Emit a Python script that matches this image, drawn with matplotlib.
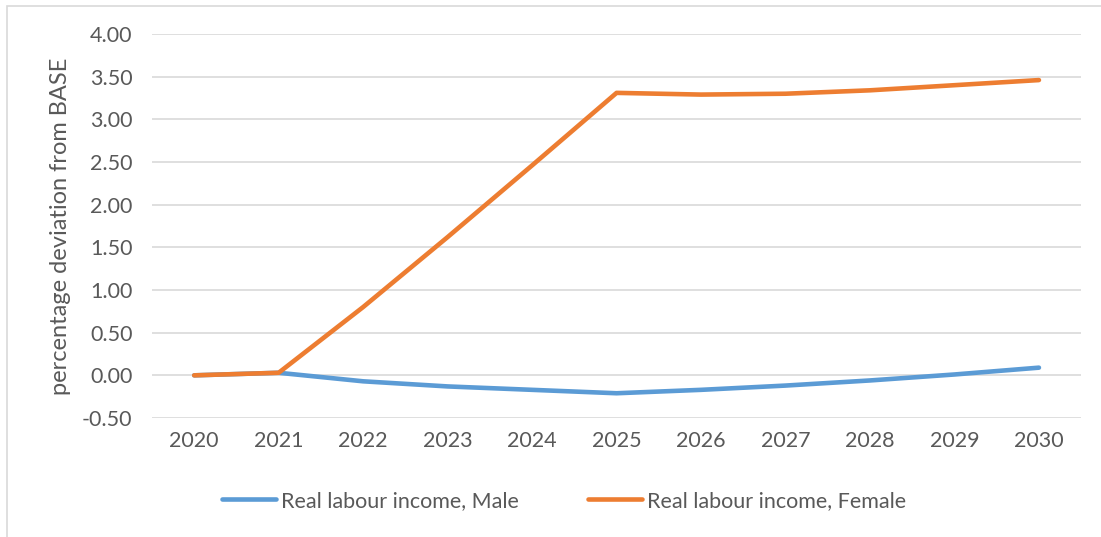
import matplotlib.pyplot as plt
from matplotlib.patches import Rectangle

years = ['2020', '2021', '2022', '2023', '2024', '2025', '2026', '2027', '2028', '2029', '2030']
male = [0.00, 0.03, -0.07, -0.13, -0.17, -0.21, -0.17, -0.12, -0.06, 0.01, 0.09]
female = [0.00, 0.03, 0.80, 1.62, 2.46, 3.31, 3.29, 3.30, 3.34, 3.40, 3.46]

plt.rcParams['font.family'] = ['Lato', 'DejaVu Sans']
grey = '#595959'

fig = plt.figure(figsize=(11.01, 5.37), dpi=100)
ax = fig.add_axes([0.138, 0.2216, 0.844, 0.7151])

x = range(len(years))
ax.plot(x, male, color='#5B9BD5', lw=3.3, solid_capstyle='round', label='Real labour income, Male')
ax.plot(x, female, color='#ED7D31', lw=3.3, solid_capstyle='round', label='Real labour income, Female')

ax.set_xlim(-0.5, len(years) - 0.5)
ax.set_ylim(-0.5, 4.0)
ax.set_yticks([i * 0.5 - 0.5 for i in range(10)])
ax.set_yticklabels(['%.2f' % (i * 0.5 - 0.5) for i in range(10)])
ax.set_xticks(list(x))
ax.set_xticklabels(years)
ax.tick_params(length=0, labelsize=15.5, labelcolor=grey, pad=9)
ax.tick_params(axis='y', pad=14)
ax.grid(axis='y', color='#d9d9d9', lw=1.2)
ax.set_axisbelow(True)
for s in ax.spines.values():
    s.set_visible(False)

ax.set_ylabel('percentage deviation from BASE', fontsize=17, color=grey, labelpad=8)

leg = fig.legend(loc='center', bbox_to_anchor=(0.512, 0.067), ncol=2, frameon=False,
                 fontsize=15.5, labelcolor=grey, handlelength=2.55, handletextpad=0.2,
                 columnspacing=3.2)

fig.patches.append(Rectangle((7 / 1101, -0.01), 1.1, 1 - 6 / 537 + 0.01, transform=fig.transFigure,
                             fill=False, edgecolor='#d9d9d9', lw=1.2))

fig.savefig('out.png', dpi=100)
